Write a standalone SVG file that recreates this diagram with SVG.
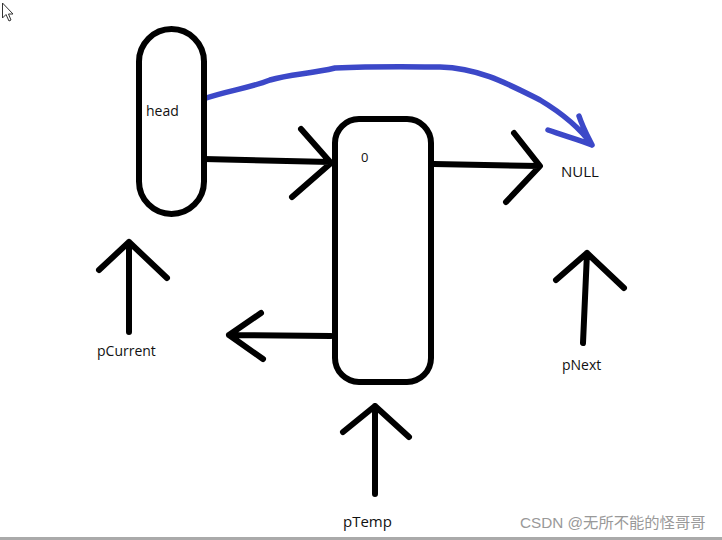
<svg xmlns="http://www.w3.org/2000/svg" width="722" height="540" viewBox="0 0 722 540">
<style>
.s{fill:none;stroke:#000;stroke-width:6;stroke-linecap:round;stroke-linejoin:round}
.n{fill:#fff;stroke:#000;stroke-width:6}
.b{fill:none;stroke:#3c48c8;stroke-width:5.5;stroke-linecap:round;stroke-linejoin:round}
.t{font-family:"Open Sans","Noto Sans","Liberation Sans",sans-serif;fill:#111}
</style>
<rect width="722" height="540" fill="#fff"/>
<path d="M2.5,3 L2.5,18 L6,14.5 L9,21 L11,20 L8.5,14 L13,14 Z" fill="#fff" stroke="#333" stroke-width="1"/>
<g id="connectors">
<path class="s" d="M204,159 L330,162 M301,129 L331,163 L292,197"/>
<path class="s" d="M434,164 L539,166 M514,133 L540,166 L506,202"/>
<path class="s" d="M129,332 L129,242 M99,270 L129,242 L167,278"/>
<path class="s" d="M331,336 L229,335 M261,313 L229,335 L263,359"/>
<path class="s" d="M375,494 L375,406 M343,432 L375,406 L409,437"/>
<path class="s" d="M583,343 L587,253 M556,280 L587,253 L624,288"/>
<path class="b" d="M203,99 C230,90 250,88 270,80 C290,74 310,74 335,68 C380,66 420,67 440,67 C480,68 510,85 540,100 C560,112 580,128 592,145 M548,130 C565,136 580,140 592,145 M579,116 C583,128 588,137 592,145"/>
</g>
<g id="head">
<rect class="n" x="139" y="29" width="65" height="185" rx="32.5"/>
<text class="t" x="146" y="116" font-size="14">head</text>
</g>
<g id="temp">
<rect class="n" x="335" y="119" width="96" height="263" rx="24"/>
<text class="t" x="361" y="162" font-size="13">0</text>
</g>
<g id="null">
<text class="t" x="561" y="177" font-size="15">NULL</text>
</g>
<g id="pCurrent">
<text class="t" x="97" y="356" font-size="14">pCurrent</text>
</g>
<g id="pTemp">
<text class="t" x="343" y="527" font-size="15">pTemp</text>
</g>
<g id="pNext">
<text class="t" x="562" y="370" font-size="14">pNext</text>
</g>
<text x="520" y="528" font-size="15.3" fill="#999" font-family="'Liberation Sans','Noto Sans CJK SC',sans-serif">CSDN @无所不能的怪哥哥</text>
<rect x="0" y="537" width="722" height="3" fill="#aaa"/>
</svg>
